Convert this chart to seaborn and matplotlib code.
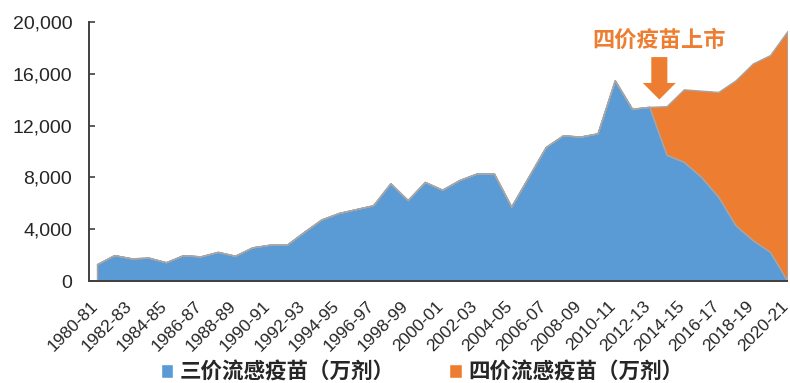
import matplotlib
matplotlib.use("Agg")
import matplotlib.pyplot as plt
from matplotlib.patches import Patch
from matplotlib.transforms import ScaledTranslation
import seaborn as sns

# Flu season labels (one per season)
seasons = [
    "1980-81", "1981-82", "1982-83", "1983-84", "1984-85", "1985-86", "1986-87",
    "1987-88", "1988-89", "1989-90", "1990-91", "1991-92", "1992-93", "1993-94",
    "1994-95", "1995-96", "1996-97", "1997-98", "1998-99", "1999-00", "2000-01",
    "2001-02", "2002-03", "2003-04", "2004-05", "2005-06", "2006-07", "2007-08",
    "2008-09", "2009-10", "2010-11", "2011-12", "2012-13", "2013-14", "2014-15",
    "2015-16", "2016-17", "2017-18", "2018-19", "2019-20", "2020-21",
]

# Doses distributed, 10k doses
trivalent = [
    1300, 2000, 1750, 1800, 1450, 2000, 1900, 2250, 1950, 2600, 2800,
    2800, 3800, 4750, 5250, 5550, 5850, 7550, 6250, 7650, 7050, 7800,
    8300, 8300, 5750, 8050, 10350, 11250, 11150, 11400, 15500, 13300,
    13450, 9750, 9200, 8050, 6500, 4300, 3150, 2250, 0,
]
quadrivalent = [
    0, 0, 0, 0, 0, 0, 0, 0, 0, 0, 0,
    0, 0, 0, 0, 0, 0, 0, 0, 0, 0, 0,
    0, 0, 0, 0, 0, 0, 0, 0, 0, 0,
    0, 3750, 5600, 6650, 8100, 11200, 13650, 15200, 19300,
]

y_ticks = [0, 4000, 8000, 12000, 16000, 20000]
series_names = ["三价流感疫苗（万剂）", "四价流感疫苗（万剂）"]
launch_label = "四价疫苗上市"
launch_season = "2013-14"

BLUE = "#5b9bd5"
ORANGE = "#ed7d31"
EDGE = "#a6a6a6"
AXIS = "#404040"
CJK = ["Noto Sans CJK SC", "DejaVu Sans"]

sns.set_theme(style="white")
plt.rcParams["font.family"] = ["Liberation Sans", "DejaVu Sans"]

fig = plt.figure(figsize=(7.9, 3.83), dpi=100)
ax = fig.add_axes([0.1127, 0.2663, 0.884, 0.6763])

x = list(range(len(seasons)))
ax.stackplot(x, trivalent, quadrivalent, colors=[BLUE, ORANGE],
             edgecolor=EDGE, linewidth=1.0)

ax.set_xlim(-0.46, len(seasons) - 1)
ax.set_ylim(0, 20000)

ax.set_yticks(y_ticks)
ax.set_yticklabels([f"{v:,}" for v in y_ticks], fontsize=14, color="#262626")
ax.tick_params(axis="y", direction="in", length=4, width=1.2, color=AXIS, pad=12, left=True)

ax.set_xticks(x[::2])
ax.set_xticklabels(seasons[::2], rotation=45, ha="right", va="center",
                   rotation_mode="anchor", fontsize=12.5, color="#262626")
ax.tick_params(axis="x", length=0, pad=16.5)
shift = ScaledTranslation(-1.5 / 100, 0, fig.dpi_scale_trans)
for lbl in ax.get_xticklabels():
    lbl.set_transform(lbl.get_transform() + shift)

sns.despine(ax=ax)
for side in ("left", "bottom"):
    ax.spines[side].set_color(AXIS)
    ax.spines[side].set_linewidth(1.4)
ax.grid(False)

# Launch of the quadrivalent vaccine
xi = seasons.index(launch_season) - 0.42
ax.text(xi, 18600, launch_label, color=ORANGE, fontsize=16, fontweight="bold",
        family=CJK, ha="center", va="center")
ax.arrow(xi, 17370, 0, 13900 - 17370, width=1.05, head_width=2.2,
         head_length=1470, length_includes_head=True, facecolor=ORANGE,
         edgecolor="white", linewidth=1.5, zorder=5)

handles = [Patch(facecolor=BLUE), Patch(facecolor=ORANGE)]
fig.legend(handles, series_names, loc="center", bbox_to_anchor=(0.534, 0.028),
           ncol=2, frameon=False, handlelength=0.6, handleheight=0.6,
           handletextpad=0.3, columnspacing=2.5,
           prop={"family": CJK, "weight": "bold", "size": 15.5})

fig.savefig("out.png", dpi=100)
